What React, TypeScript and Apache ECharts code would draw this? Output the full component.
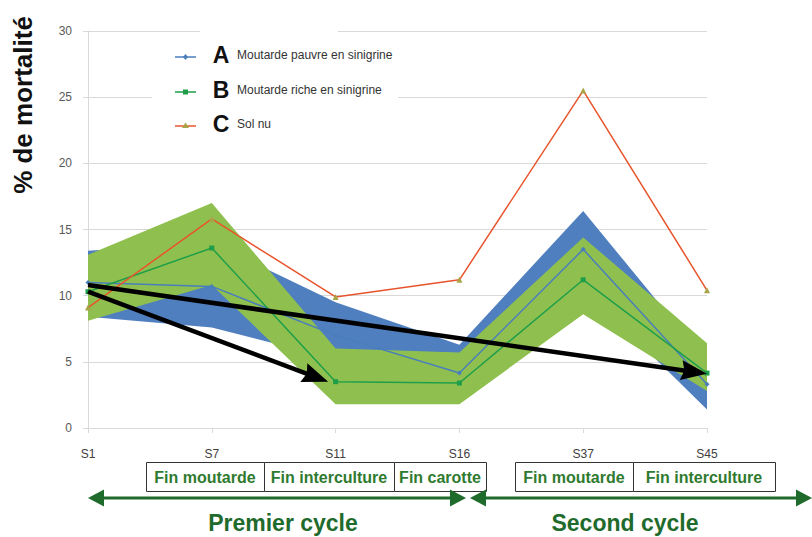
import React, { useEffect, useRef } from 'react';
import * as echarts from 'echarts';

const weeks = ['S1', 'S7', 'S11', 'S16', 'S37', 'S45'];
const seriesA = [11.0, 10.7, 7.0, 4.15, 13.5, 3.3];
const seriesB = [10.3, 13.6, 3.5, 3.4, 11.2, 4.15];
const seriesC = [9.1, 15.8, 9.9, 11.2, 25.5, 10.4];
const bandALow = [8.4, 7.6, 5.2, 2.0, 10.6, 1.4];
const bandAHigh = [13.4, 14.0, 9.5, 6.3, 16.4, 5.0];
const bandBLow = [8.1, 10.8, 1.8, 1.8, 8.6, 2.8];
const bandBHigh = [13.1, 17.0, 6.0, 5.7, 14.4, 6.4];
const legendLetters = ['A', 'B', 'C'];
const legendNames = ['Moutarde pauvre en sinigrine', 'Moutarde riche en sinigrine', 'Sol nu'];
const stageLabels = ['Fin moutarde', 'Fin interculture', 'Fin carotte', 'Fin moutarde', 'Fin interculture'];
const cycleLabels = ['Premier cycle', 'Second cycle'];
const trendFrom = [[0, 10.8], [0, 10.3]];
const trendTo = [[5, 4.1], [1.94, 3.5]];

// layout (pixels)
const boxEdges = [[146, 264], [264, 394], [394, 486], [515, 633], [633, 775]];
const cycleArrowEdges = [[88, 466], [470, 812]];
const cycleCenters = [283, 625];

const BLUE_BAND = '#4f7fbf';
const GREEN_BAND = '#8fc04f';
const DARK_GREEN = '#1f6b2c';
const NARROW = "'Liberation Sans Narrow', 'Liberation Sans', Arial, sans-serif";

function arrowElems(x1: number, y1: number, x2: number, y2: number, color: string, width: number,
  headLen: number, headW: number, startHead: boolean, endHead: boolean, notch: number, z: number) {
  const dx = x2 - x1, dy = y2 - y1;
  const len = Math.sqrt(dx * dx + dy * dy);
  const ux = dx / len, uy = dy / len;
  const els: any[] = [];
  const sx = startHead ? x1 + ux * headLen * 0.7 : x1;
  const sy = startHead ? y1 + uy * headLen * 0.7 : y1;
  const ex = endHead ? x2 - ux * headLen * 0.7 : x2;
  const ey = endHead ? y2 - uy * headLen * 0.7 : y2;
  els.push({ type: 'line', z, shape: { x1: sx, y1: sy, x2: ex, y2: ey }, style: { stroke: color, lineWidth: width } });
  const head = (tx: number, ty: number, dirx: number, diry: number) => {
    const px = -diry, py = dirx;
    const bx = tx - dirx * headLen, by = ty - diry * headLen;
    return {
      type: 'polygon', z,
      shape: {
        points: [
          [tx, ty],
          [bx + px * headW / 2, by + py * headW / 2],
          [tx - dirx * headLen * (1 - notch), ty - diry * headLen * (1 - notch)],
          [bx - px * headW / 2, by - py * headW / 2],
        ],
      },
      style: { fill: color },
    };
  };
  if (endHead) els.push(head(x2, y2, ux, uy));
  if (startHead) els.push(head(x1, y1, -ux, -uy));
  return els;
}

export default function App() {
  const ref = useRef<HTMLDivElement>(null);
  useEffect(() => {
    document.body.style.margin = '0';
    if (!ref.current) return;
    const chart = echarts.init(ref.current, null, { renderer: 'svg' });

    const graphics: any[] = [];
    // white legend backgrounds
    graphics.push({ type: 'rect', z: 50, shape: { x: 152, y: 36, width: 246, height: 104 }, style: { fill: '#fff' } });
    graphics.push({ type: 'rect', z: 50, shape: { x: 200, y: 24, width: 138, height: 14 }, style: { fill: '#fff' } });
    // legend
    const rowY = [55, 90, 124];
    const iconColors = ['#4a7ebb', '#1f9e4a', '#e8542b'];
    const markColors = ['#4a7ebb', '#1f9e4a', '#a8a548'];
    const markSymbols = ['diamond', 'rect', 'triangle'];
    legendLetters.forEach((L, i) => {
      const y = rowY[i];
      graphics.push({ type: 'line', z: 60, shape: { x1: 175, y1: y + 2, x2: 196, y2: y + 2 }, style: { stroke: iconColors[i], lineWidth: 1.5 } });
      if (markSymbols[i] === 'rect') {
        graphics.push({ type: 'rect', z: 61, shape: { x: 183, y: y - 0.5, width: 5, height: 5 }, style: { fill: markColors[i] } });
      } else if (markSymbols[i] === 'diamond') {
        graphics.push({ type: 'polygon', z: 61, shape: { points: [[185.5, y - 1], [188, y + 2], [185.5, y + 5], [183, y + 2]] }, style: { fill: markColors[i] } });
      } else {
        graphics.push({ type: 'polygon', z: 61, shape: { points: [[185.5, y - 1.5], [189, y + 4], [182, y + 4]] }, style: { fill: markColors[i] } });
      }
      graphics.push({ type: 'text', z: 60, x: 221, y: y, style: { text: L, fill: '#111', font: `bold 23px ${NARROW}`, textAlign: 'center', textVerticalAlign: 'middle' } });
      graphics.push({ type: 'text', z: 60, x: 237, y: y, style: { text: legendNames[i], fill: '#333', font: `12px ${NARROW}`, textAlign: 'left', textVerticalAlign: 'middle' } });
    });
    // y title
    graphics.push({ type: 'text', z: 60, x: 23, y: 105, rotation: Math.PI / 2, style: { text: '% de mortalité', fill: '#111', font: `bold 26px ${NARROW}`, textAlign: 'center', textVerticalAlign: 'middle' } });
    // stage boxes
    stageLabels.forEach((t, i) => {
      const [a, b] = boxEdges[i];
      graphics.push({ type: 'rect', z: 60, shape: { x: a + 0.5, y: 462.5, width: b - a, height: 29 }, style: { fill: '#fff', stroke: '#333', lineWidth: 1 } });
      graphics.push({ type: 'text', z: 61, x: (a + b) / 2, y: 477, style: { text: t, fill: '#2f7a2f', font: `bold 16px ${NARROW}`, textAlign: 'center', textVerticalAlign: 'middle' } });
    });
    // cycle arrows
    cycleArrowEdges.forEach(([a, b]) => {
      graphics.push(...arrowElems(a, 498, b, 498, DARK_GREEN, 3, 16, 17, true, true, 0, 60));
    });
    cycleLabels.forEach((t, i) => {
      graphics.push({ type: 'text', z: 60, x: cycleCenters[i], y: 523, style: { text: t, fill: DARK_GREEN, font: `bold 23px ${NARROW}`, textAlign: 'center', textVerticalAlign: 'middle' } });
    });

    const option: any = {
      animation: false,
      grid: { left: 88, right: 105, top: 31, bottom: 109, containLabel: false },
      xAxis: {
        type: 'category', data: weeks, boundaryGap: false,
        axisLine: { lineStyle: { color: '#d9d9d9' } },
        axisTick: { show: true, length: 5, lineStyle: { color: '#d9d9d9' } },
        axisLabel: { color: '#404040', fontSize: 12, margin: 20, fontFamily: NARROW },
      },
      yAxis: {
        type: 'value', min: 0, max: 30, interval: 5,
        axisLine: { show: true, lineStyle: { color: '#d9d9d9' } },
        axisTick: { show: true, length: 5, lineStyle: { color: '#d9d9d9' } },
        splitLine: { lineStyle: { color: '#d9d9d9' } },
        axisLabel: { color: '#595959', fontSize: 12, margin: 16, fontFamily: NARROW },
      },
      series: [
        { type: 'line', name: 'A_low', data: bandALow, stack: 'bandA', symbol: 'none', lineStyle: { opacity: 0 }, silent: true },
        { type: 'line', name: 'A_band', data: bandAHigh.map((v, i) => +(v - bandALow[i]).toFixed(2)), stack: 'bandA', symbol: 'none', lineStyle: { opacity: 0 }, areaStyle: { color: BLUE_BAND, opacity: 1 }, silent: true },
        { type: 'line', name: 'B_low', data: bandBLow, stack: 'bandB', symbol: 'none', lineStyle: { opacity: 0 }, silent: true },
        { type: 'line', name: 'B_band', data: bandBHigh.map((v, i) => +(v - bandBLow[i]).toFixed(2)), stack: 'bandB', symbol: 'none', lineStyle: { opacity: 0 }, areaStyle: { color: GREEN_BAND, opacity: 1 }, silent: true },
        { type: 'line', name: 'A', data: seriesA, symbol: 'diamond', symbolSize: 5, showAllSymbol: true, lineStyle: { color: '#4a7ebb', width: 1.5 }, itemStyle: { color: '#4a7ebb' }, z: 3 },
        { type: 'line', name: 'B', data: seriesB, symbol: 'rect', symbolSize: 5, showAllSymbol: true, lineStyle: { color: '#1f9e4a', width: 1.5 }, itemStyle: { color: '#1f9e4a' }, z: 3 },
        { type: 'line', name: 'C', data: seriesC, symbol: 'triangle', symbolSize: 6, showAllSymbol: true, lineStyle: { color: '#e8542b', width: 1.5 }, itemStyle: { color: '#a8a548' }, z: 3 },
      ],
      graphic: graphics,
    };
    chart.setOption(option);

    // black trend arrows computed from data coordinates
    const px0 = chart.convertToPixel({ gridIndex: 0 }, [0, 0]) as number[];
    const px1 = chart.convertToPixel({ gridIndex: 0 }, [1, 0]) as number[];
    const stepX = px1[0] - px0[0];
    const toPx = (p: number[]) => {
      const yy = (chart.convertToPixel({ gridIndex: 0 }, [0, p[1]]) as number[])[1];
      return [px0[0] + stepX * p[0], yy];
    };
    const extra: any[] = [];
    trendFrom.forEach((f, i) => {
      const a = toPx(f), b = toPx(trendTo[i]);
      extra.push(...arrowElems(a[0], a[1], b[0], b[1], '#000', 4.5, 26, 20, false, true, 0.12, 40));
    });
    chart.setOption({ graphic: [...graphics, ...extra] });

    return () => chart.dispose();
  }, []);
  return <div ref={ref} style={{ width: 812, height: 537 }} />;
}
